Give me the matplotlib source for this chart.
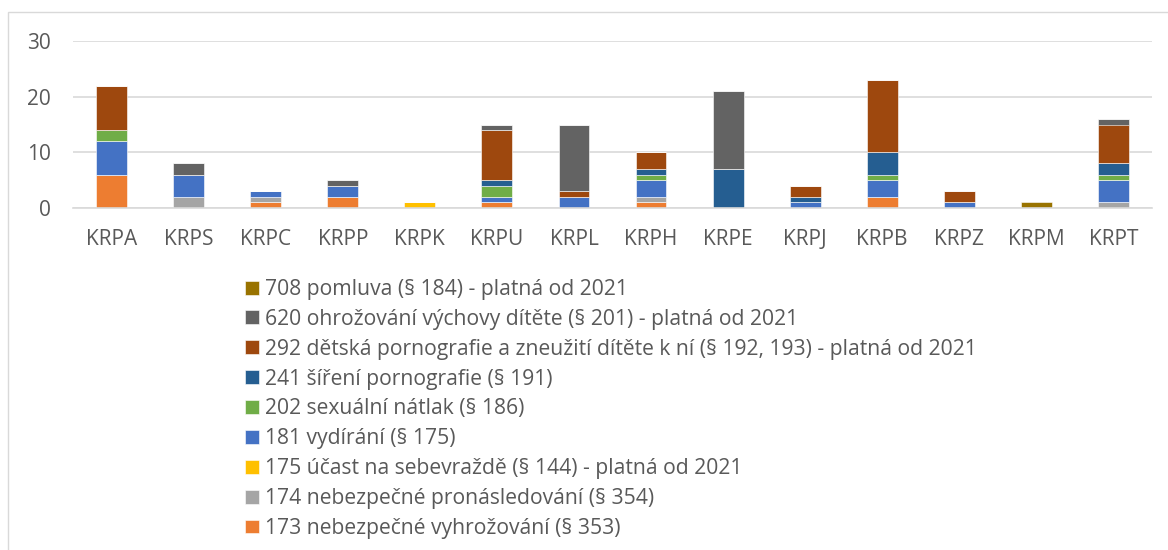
import matplotlib.pyplot as plt
import numpy as np
from matplotlib.patches import Rectangle

plt.rcParams['font.family'] = ['Open Sans', 'DejaVu Sans']

categories = ['KRPA', 'KRPS', 'KRPC', 'KRPP', 'KRPK', 'KRPU', 'KRPL',
              'KRPH', 'KRPE', 'KRPJ', 'KRPB', 'KRPZ', 'KRPM', 'KRPT']

# series from bottom of the stack to top
labels = [
    '173 nebezpečné vyhrožování (§ 353)',
    '174 nebezpečné pronásledování (§ 354)',
    '175 účast na sebevraždě (§ 144) - platná od 2021',
    '181 vydírání (§ 175)',
    '202 sexuální nátlak (§ 186)',
    '241 šíření pornografie (§ 191)',
    '292 dětská pornografie a zneužití dítěte k ní (§ 192, 193) - platná od 2021',
    '620 ohrožování výchovy dítěte (§ 201) - platná od 2021',
    '708 pomluva (§ 184) - platná od 2021',
]
s173 = [6, 0, 1, 2, 0, 1, 0, 1, 0, 0, 2, 0, 0, 0]
s174 = [0, 2, 1, 0, 0, 0, 0, 1, 0, 0, 0, 0, 0, 1]
s175 = [0, 0, 0, 0, 1, 0, 0, 0, 0, 0, 0, 0, 0, 0]
s181 = [6, 4, 1, 2, 0, 1, 2, 3, 0, 1, 3, 1, 0, 4]
s202 = [2, 0, 0, 0, 0, 2, 0, 1, 0, 0, 1, 0, 0, 1]
s241 = [0, 0, 0, 0, 0, 1, 0, 1, 7, 1, 4, 0, 0, 2]
s292 = [8, 0, 0, 0, 0, 9, 1, 3, 0, 2, 13, 2, 0, 7]
s620 = [0, 2, 0, 1, 0, 1, 12, 0, 14, 0, 0, 0, 0, 1]
s708 = [0, 0, 0, 0, 0, 0, 0, 0, 0, 0, 0, 0, 1, 0]
series = [s173, s174, s175, s181, s202, s241, s292, s620, s708]
colors = ['#ED7D31', '#A5A5A5', '#FFC000', '#4472C4', '#70AD47',
          '#255E91', '#9E480E', '#636363', '#997300']

fig = plt.figure(figsize=(11.68, 5.5), dpi=100)
ax = fig.add_axes([73 / 1168, 1 - 208 / 550, (1152 - 73) / 1168, 167 / 550])

x = np.arange(len(categories))
bottom = np.zeros(len(categories))
handles = []
for vals, lab, col in zip(series, labels, colors):
    b = ax.bar(x, vals, 0.4, bottom=bottom, color=col, label=lab,
               edgecolor='white', linewidth=0.4)
    handles.append(b)
    bottom += np.array(vals)

ax.set_xlim(-0.5, len(categories) - 0.5)
ax.set_ylim(0, 30)
ax.set_yticks([0, 10, 20, 30])
ax.set_xticks(x)
ax.set_xticklabels(categories)
ax.yaxis.grid(True, color='#D9D9D9', linewidth=1.2)
ax.set_axisbelow(True)
for sp in ['top', 'right', 'left']:
    ax.spines[sp].set_visible(False)
ax.spines['bottom'].set_color('#D9D9D9')
ax.spines['bottom'].set_linewidth(1.2)
ax.tick_params(length=0, labelsize=15, colors='#595959')
ax.tick_params(axis='x', pad=15)
ax.tick_params(axis='y', pad=16)

fig.legend(handles[::-1], labels[::-1], loc='upper left',
           bbox_to_anchor=(245 / 1168, 1 - 279 / 550), frameon=False,
           fontsize=15.2, labelcolor='#595959', handlelength=0.64,
           handleheight=0.64, handletextpad=0.3, labelspacing=0.42,
           borderpad=0, borderaxespad=0)

fig.patches.append(Rectangle((8 / 1168, -0.1), 1.2, 1.1 - 12 / 550,
                             transform=fig.transFigure, fill=False,
                             edgecolor='#D9D9D9', linewidth=1))

fig.savefig('out.png', dpi=100)
